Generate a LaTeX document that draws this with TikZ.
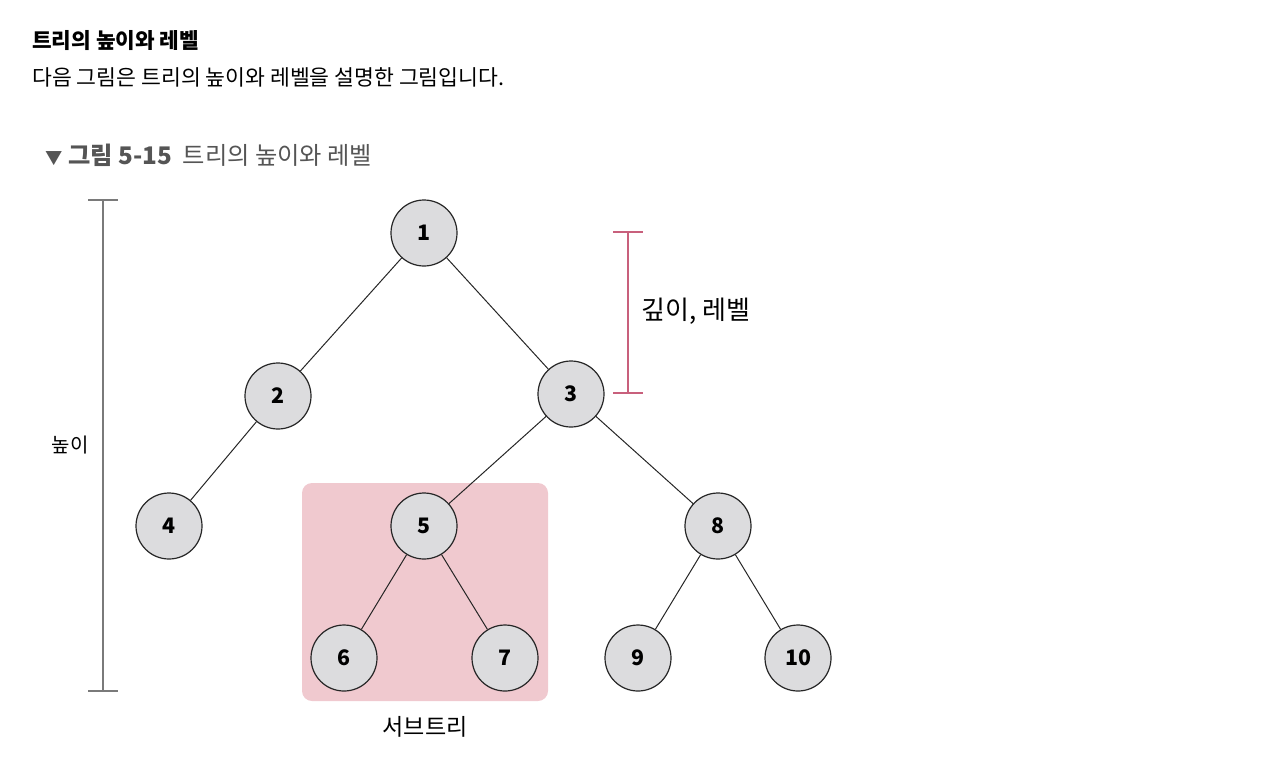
\documentclass[tikz,border=0pt]{standalone}
\usepackage{fontspec}
\setmainfont{Noto Sans CJK KR}
\definecolor{nodegray}{HTML}{DCDCDE}
\definecolor{subpink}{HTML}{F0C9CF}
\definecolor{levelpink}{HTML}{C8607C}
\definecolor{heightgray}{HTML}{7A7A7A}
\definecolor{captiongray}{HTML}{555555}
\begin{document}
\begin{tikzpicture}[x=0.75pt, y=-0.75pt, every node/.style={inner sep=0pt},
  treenode/.style={circle, draw=black!85, fill=nodegray, line width=0.9pt,
    minimum size=49.5pt, font=\fontsize{16}{19}\selectfont\bfseries},
  edge/.style={line width=0.75pt, black!85},
  handlabel/.style={font=\fontsize{15}{18}\selectfont}]
  \useasboundingbox (0,0) rectangle (1280,761);

  % heading text
  \node[anchor=west, font=\fontsize{16}{19}\selectfont\bfseries] (title) at (32,41) {트리의 높이와 레벨};
  \node[anchor=west, font=\fontsize{16.2}{19}\selectfont] (intro) at (32,77) {다음 그림은 트리의 높이와 레벨을 설명한 그림입니다.};
  \node[anchor=west, text=captiongray, font=\fontsize{18.2}{21}\selectfont] (caption) at (45,155)
    {{\fontsize{13}{15}\selectfont ▼} \textbf{그림 5-15}\ \ 트리의 높이와 레벨};

  % subtree box
  \fill[subpink, rounded corners=7.5pt] (302,483) rectangle (548,701);
  \node[handlabel, font=\fontsize{17.3}{20}\selectfont] (subtree) at (425,727) {서브트리};

  % tree nodes
  \node[treenode] (n1) at (424,233) {1};
  \node[treenode] (n2) at (278,396) {2};
  \node[treenode] (n3) at (571,394) {3};
  \node[treenode] (n4) at (169,526) {4};
  \node[treenode] (n5) at (424,526) {5};
  \node[treenode] (n8) at (718,526) {8};
  \node[treenode] (n6) at (344,658) {6};
  \node[treenode] (n7) at (505,658) {7};
  \node[treenode] (n9) at (638,658) {9};
  \node[treenode] (n10) at (798,658) {10};

  % edges
  \foreach \a/\b in {n1/n2, n1/n3, n2/n4, n3/n5, n3/n8, n5/n6, n5/n7, n8/n9, n8/n10}
    \draw[edge] (\a) -- (\b);

  % height bracket
  \coordinate (htop) at (103,200);
  \coordinate (hbot) at (103,691);
  \draw[heightgray, line width=0.9pt] (htop) -- (hbot);
  \draw[heightgray, line width=0.9pt] ([xshift=-15*0.75pt]htop) -- ([xshift=15*0.75pt]htop);
  \draw[heightgray, line width=0.9pt] ([xshift=-15*0.75pt]hbot) -- ([xshift=15*0.75pt]hbot);
  \node[handlabel] (height) at (70,445) {높이};

  % depth / level bracket
  \coordinate (ltop) at (628,232);
  \coordinate (lbot) at (628,393);
  \draw[levelpink, line width=0.9pt] (ltop) -- (lbot);
  \draw[levelpink, line width=0.9pt] ([xshift=-15*0.75pt]ltop) -- ([xshift=15*0.75pt]ltop);
  \draw[levelpink, line width=0.9pt] ([xshift=-15*0.75pt]lbot) -- ([xshift=15*0.75pt]lbot);
  \node[handlabel, font=\fontsize{19.5}{23}\selectfont] (level) at (696,311) {깊이, 레벨};
\end{tikzpicture}
\end{document}
